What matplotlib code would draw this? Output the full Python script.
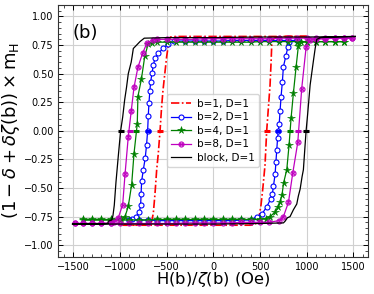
import matplotlib
matplotlib.use("Agg")
import matplotlib.pyplot as plt
from matplotlib.ticker import AutoMinorLocator

# ---------------- data ----------------
labels = ["b=1, D=1", "b=2, D=1", "b=4, D=1", "b=8, D=1", "block, D=1"]

# b=1
red_H_desc = [1000, 500, 0, -400, -460, -470, -482, -500, -520, -540, -555, -571, -590, -607, -625, -643, -660, -680, -800, -1000]
red_M_desc = [0.825, 0.825, 0.825, 0.825, 0.82, 0.80, 0.75, 0.65, 0.50, 0.35, 0.20, 0.0, -0.20, -0.34, -0.55, -0.72, -0.79, -0.82, -0.825, -0.825]
red_H_asc = [-1000, -500, 0, 400, 440, 470, 490, 510, 530, 553, 571, 589, 607, 618, 625, 640, 680, 800, 1000]
red_M_asc = [-0.825, -0.825, -0.825, -0.825, -0.82, -0.80, -0.75, -0.65, -0.50, -0.30, 0.0, 0.20, 0.40, 0.60, 0.75, 0.80, 0.82, 0.825, 0.825]

# b=2
blue_H_desc = [900, 800, 700, 600, 500, 400, 300, 200, 100, 0, -100, -200, -300, -420,
               -482, -536, -589, -625, -643, -657, -671, -680, -690, -697, -704, -715, -730,
               -750, -768, -774, -779, -793, -828, -870, -900]
blue_M_desc = [0.79, 0.79, 0.79, 0.79, 0.79, 0.79, 0.79, 0.79, 0.785, 0.785, 0.785, 0.785, 0.785, 0.785,
               0.76, 0.72, 0.68, 0.636, 0.572, 0.505, 0.43, 0.35, 0.24, 0.13, 0.0, -0.12, -0.24,
               -0.34, -0.44, -0.55, -0.65, -0.71, -0.75, -0.775, -0.78]
blue_H_asc = [-900, -800, -700, -600, -500, -400, -300, -200, -100, 0, 100, 200, 300, 400,
              464, 518, 571, 614, 632, 643, 661, 670, 679, 688, 696, 705, 714, 725, 739,
              750, 775, 797, 814, 900]
blue_M_asc = [-0.78, -0.78, -0.78, -0.785, -0.785, -0.785, -0.785, -0.785, -0.785, -0.785, -0.785, -0.785, -0.78, -0.78,
              -0.75, -0.73, -0.665, -0.595, -0.55, -0.485, -0.38, -0.27, -0.165, -0.06, 0.0, 0.06, 0.17, 0.30, 0.43,
              0.56, 0.65, 0.73, 0.78, 0.79]

# b=4
green_H_desc = [1400, 1300, 1200, 1100, 1000, 900, 800, 700, 600, 500, 400, 300, 200, 100, 0, -100, -200, -300, -400, -500, -600,
                -660, -700, -735, -770, -808, -815, -850, -875, -911, -946, -990,
                -1100, -1200, -1300, -1400]
green_M_desc = [0.78, 0.78, 0.78, 0.78, 0.78, 0.78, 0.78, 0.78, 0.78, 0.78, 0.775, 0.775, 0.775, 0.775, 0.775, 0.775, 0.775, 0.775, 0.775, 0.775, 0.775,
                0.77, 0.755, 0.65, 0.455, 0.30, 0.06, -0.20, -0.47, -0.66, -0.75, -0.77,
                -0.775, -0.775, -0.775, -0.775]
green_H_asc = [-1400, -1300, -1200, -1100, -1000, -900, -800, -700, -600, -500, -400, -300, -200, -100, 0, 100, 200, 300, 400, 500,
               560, 607, 661, 690, 715, 735, 752, 786, 811, 832, 857, 886, 910, 935,
               1000, 1100, 1200, 1300, 1400]
green_M_asc = [-0.78, -0.78, -0.78, -0.78, -0.78, -0.78, -0.78, -0.78, -0.775, -0.775, -0.775, -0.775, -0.775, -0.775, -0.775, -0.775, -0.775, -0.775, -0.775, -0.775,
               -0.77, -0.75, -0.71, -0.665, -0.625, -0.56, -0.455, -0.34, -0.12, 0.11, 0.33, 0.56, 0.74, 0.775,
               0.78, 0.78, 0.78, 0.78, 0.78]

# b=8
mag_H_desc = [1480, 1400, 1300, 1200, 1100, 1000, 900, 800, 700, 600, 500, 400, 300, 200, 100, 0, -100, -200, -300, -400, -500, -600,
              -650, -710, -757, -808, -850, -880, -911, -946, -971, -1018, -1060, -1100,
              -1200, -1300, -1400, -1480]
mag_M_desc = [0.81, 0.81, 0.81, 0.81, 0.81, 0.81, 0.81, 0.81, 0.81, 0.805, 0.805, 0.805, 0.805, 0.805, 0.805, 0.805, 0.805, 0.80, 0.80, 0.80, 0.80, 0.80,
              0.795, 0.77, 0.68, 0.555, 0.38, 0.17, -0.05, -0.38, -0.645, -0.76, -0.795, -0.805,
              -0.81, -0.81, -0.81, -0.81]
mag_H_asc = [-1480, -1400, -1300, -1200, -1100, -1000, -900, -800, -700, -600, -500, -400, -300, -200, -100, 0, 100, 200, 300, 400, 500, 600,
             700, 750, 804, 850, 904, 946, 993, 1030, 1100,
             1200, 1300, 1400, 1480]
mag_M_asc = [-0.81, -0.81, -0.81, -0.81, -0.81, -0.81, -0.81, -0.81, -0.81, -0.81, -0.81, -0.81, -0.805, -0.805, -0.805, -0.805, -0.805, -0.805, -0.80, -0.80, -0.80, -0.80,
             -0.785, -0.75, -0.625, -0.37, -0.10, 0.37, 0.73, 0.79, 0.80,
             0.805, 0.81, 0.81, 0.81]

# block
blk_H_desc = [1520, 1000, 500, 0, -500, -740, -786, -821, -857, -870, -880, -911, -930, -950, -971, -993, -1018, -1043, -1061, -1075, -1089, -1110, -1125, -1130, -1300, -1510]
blk_M_desc = [0.825, 0.82, 0.82, 0.815, 0.815, 0.81, 0.78, 0.75, 0.72, 0.65, 0.60, 0.50, 0.38, 0.27, 0.12, 0.0, -0.22, -0.45, -0.65, -0.74, -0.78, -0.785, -0.79, -0.81, -0.815, -0.815]
blk_H_asc = [-1510, -1000, -500, 0, 500, 750, 768, 793, 821, 857, 893, 910, 929, 950, 964, 980, 993, 1010, 1036, 1071, 1090, 1107, 1150, 1300, 1520]
blk_M_asc = [-0.815, -0.815, -0.815, -0.815, -0.81, -0.805, -0.79, -0.76, -0.75, -0.69, -0.64, -0.57, -0.51, -0.40, -0.34, -0.15, 0.0, 0.15, 0.40, 0.61, 0.72, 0.80, 0.815, 0.82, 0.825]

# coercive fields (short bars drawn at m = 0)
red_hc = [-571, 571]
blue_hc = [-704, 696]
green_hc = [-828, 821]
mag_hc = [-898, 904]
blk_hc = [-993, 993]

xticks = [-1500, -1000, -500, 0, 500, 1000, 1500]
yticks = [-1.00, -0.75, -0.50, -0.25, 0.00, 0.25, 0.50, 0.75, 1.00]

# ---------------- figure ----------------
fig = plt.figure(figsize=(3.74, 2.94), dpi=100)
ax = fig.add_axes([0.156, 0.127, 0.829, 0.856])

series = [
    (red_H_desc, red_M_desc, red_H_asc, red_M_asc, red_hc,
     dict(color="red", ls=(0, (5, 1.5, 1, 1.5)), lw=1.2)),
    (blue_H_desc, blue_M_desc, blue_H_asc, blue_M_asc, blue_hc,
     dict(color="blue", ls="-", lw=0.9, marker="o", ms=3.6, mfc="white", mew=0.8)),
    (green_H_desc, green_M_desc, green_H_asc, green_M_asc, green_hc,
     dict(color="green", ls="-", lw=0.9, marker="*", ms=5.5, mew=0.4)),
    (mag_H_desc, mag_M_desc, mag_H_asc, mag_M_asc, mag_hc,
     dict(color="m", ls="-", lw=0.9, marker=r"$\otimes$", ms=4, mew=0.3)),
    (blk_H_desc, blk_M_desc, blk_H_asc, blk_M_asc, blk_hc,
     dict(color="black", ls="-", lw=0.9)),
]

handles = []
for i, (hd, md, ha, ma, hc, st) in enumerate(series):
    line, = ax.plot(list(hd) + list(ha), list(md) + list(ma), zorder=3 + i, label=labels[i], **st)
    ax.plot(hc, [0.0] * len(hc), ls="none", marker="_", ms=5, mew=2.2,
            color=st["color"], zorder=3 + i)
    handles.append(line)

ax.set_xlim(-1660, 1660)
ax.set_ylim(-1.1, 1.1)
ax.set_xticks(xticks)
ax.set_yticks(yticks)
ax.set_yticklabels([f"{v:.2f}".replace("-", "\u2212") for v in yticks])
ax.xaxis.set_minor_locator(AutoMinorLocator(5))
ax.yaxis.set_minor_locator(AutoMinorLocator(5))
ax.tick_params(which="both", direction="in", top=True, right=True, labelsize=7)
ax.tick_params(which="major", length=3.5, width=0.7)
ax.tick_params(which="minor", length=2, width=0.5)
ax.grid(True, which="major", color="#d0d0d0", lw=0.8)
ax.set_axisbelow(True)
for sp in ax.spines.values():
    sp.set_color("#333333")
    sp.set_linewidth(0.8)

ax.set_xlabel(r"H(b)/$\zeta$(b) (Oe)", fontsize=11.8, labelpad=-1)
ax.set_ylabel(r"$(1-\delta+\delta\zeta(\mathrm{b}))\times\mathrm{m_H}$", fontsize=13, labelpad=1)
ax.text(0.045, 0.925, "(b)", transform=ax.transAxes, fontsize=13, va="top", ha="left")

leg = ax.legend(handles=handles, loc="center", fontsize=7.5, frameon=True,
                handlelength=1.9, borderpad=0.4, labelspacing=0.35, handletextpad=0.6)
leg.set_zorder(20)

fig.savefig("out.png", dpi=100)
